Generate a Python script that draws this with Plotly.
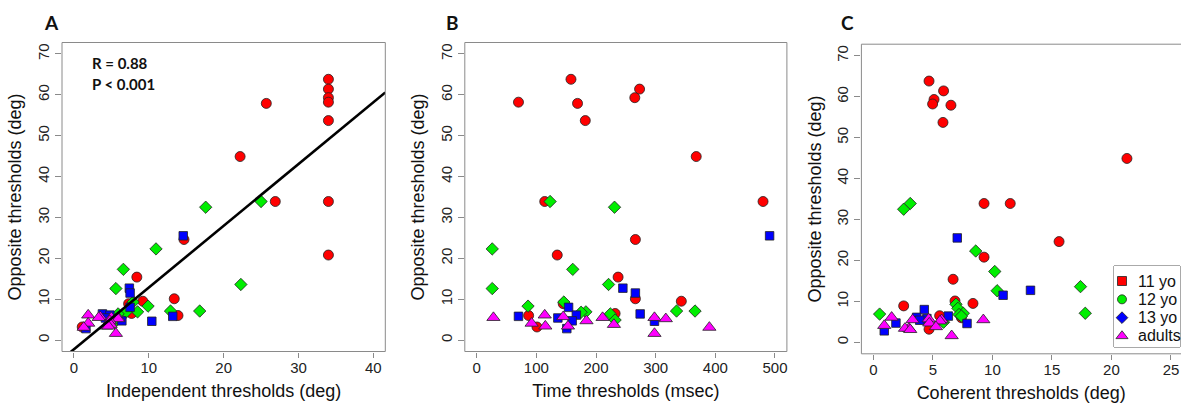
import plotly.graph_objects as go

W, H = 1181, 403

# ---------------- data ----------------
# 11 yo (drawn as red circles)
red_opp   = [63.8, 61.4, 59.3, 58.2, 57.9, 53.7, 44.9, 33.9, 33.9, 24.6, 20.8, 15.4, 10.1, 9.5, 8.9, 6.5, 6.0, 3.2]
red_ind   = [34.0, 34.0, 34.0, 34.0, 25.7, 34.0, 22.2, 26.9, 34.0, 14.7, 34.0, 8.4, 13.4, 9.2, 7.3, 7.7, 13.9, 1.1]
red_time  = [158, 273, 265, 70, 169, 182, 368, 114, 480, 266, 135, 237, 266, 343, 145, 232, 87, 101]
red_coh   = [4.68, 5.9, 5.1, 4.98, 6.52, 5.85, 21.3, 9.3, 11.5, 15.6, 9.3, 6.7, 6.86, 8.37, 2.55, 5.57, 7.4, 4.68]

# 12 yo (drawn as green diamonds)
grn_opp   = [33.9, 32.5, 22.3, 17.3, 13.6, 12.6, 9.3, 8.3, 7.1, 7.1, 6.9, 6.8, 6.4, 4.9]
grn_ind   = [25.0, 17.6, 10.96, 6.6, 22.3, 5.6, 7.9, 9.9, 12.9, 16.8, 8.5, 6.95, 5.9, 5.7]
grn_time  = [123, 231, 26, 161, 221, 26, 146, 86, 335, 366, 183, 175, 224, 232]
grn_coh   = [3.1, 2.55, 8.6, 10.2, 17.4, 10.4, 6.94, 7.1, 17.8, 7.56, 0.53, 7.2, 7.4, 5.9]

# 13 yo (drawn as blue squares)
blu_opp   = [25.5, 12.7, 11.5, 8.0, 6.4, 6.1, 5.8, 5.4, 4.6, 4.7, 2.8]
blu_ind   = [14.6, 7.4, 7.5, 7.5, 3.8, 4.8, 13.2, 4.2, 10.4, 6.4, 1.6]
blu_time  = [491, 245, 266, 154, 274, 167, 70, 136, 298, 160, 151]
blu_coh   = [7.05, 13.2, 10.9, 4.28, 6.3, 3.64, 4.5, 3.9, 7.87, 1.9, 0.92]

# adults (drawn as magenta triangles)
adl_opp   = [6.1, 5.7, 5.5, 5.5, 5.5, 5.2, 4.7, 4.1, 3.8, 3.4, 3.4, 3.1, 1.6]
adl_ind   = [1.9, 3.5, 3.3, 5.0, 5.9, 5.9, 4.8, 1.9, 4.9, 4.3, 4.6, 1.3, 5.6]
adl_time  = [114, 145, 28, 211, 298, 317, 184, 92, 230, 115, 153, 390, 298]
adl_coh   = [1.54, 4.65, 3.3, 5.74, 9.24, 5.6, 4.7, 0.92, 5.26, 3.0, 2.66, 3.1, 6.58]

# regression line in panel A
fit_intercept = -2.25
fit_slope = 1.51
stat_lines = ["R = 0.88", "P < 0.001"]

# legend as printed in the reference (its symbols differ from the plotted ones)
legend_labels = ["11 yo", "12 yo", "13 yo", "adults"]
legend_symbols = ["square", "circle", "diamond", "triangle-up"]
group_colors = ["#FF0000", "#00EE00", "#0000FF", "#FF00FF"]

panel_letters = ["A", "B", "C"]
x_titles = ["Independent thresholds (deg)", "Time thresholds (msec)", "Coherent thresholds (deg)"]
y_title = "Opposite thresholds (deg)"
x_ticks = [[0, 10, 20, 30, 40], [0, 100, 200, 300, 400, 500], [0, 5, 10, 15, 20, 25]]
y_ticks = [0, 10, 20, 30, 40, 50, 60, 70]

# ---------------- geometry helpers (page pixels -> paper) ----------------
def px_x(p):
    return p / W

def px_y(p):
    return 1 - p / H

# panel frames in page pixels: (left, right, top, bottom)
frames = [(62.0, 385.3, 42.5, 351.5), (464.8, 786.9, 42.5, 351.5), (861.4, 1182.9, 44.2, 353.8)]
x_ranges = [[-1.6, 41.6], [-20, 520], [-1, 26]]
y_range = [-2.8, 72.8]

fig = go.Figure()

groups = [
    (red_opp, [red_ind, red_time, red_coh], "circle", group_colors[0], 10),
    (grn_opp, [grn_ind, grn_time, grn_coh], "diamond", group_colors[1], 9.5),
    (blu_opp, [blu_ind, blu_time, blu_coh], "square", group_colors[2], 8.5),
    (adl_opp, [adl_ind, adl_time, adl_coh], "triangle-up", group_colors[3], 11.5),
]
axis_ids = [("x", "y"), ("x2", "y2"), ("x3", "y3")]

for gi, (yv, xs, sym, col, sz) in enumerate(groups):
    for pi in range(3):
        xa, ya = axis_ids[pi]
        fig.add_trace(go.Scatter(
            x=xs[pi], y=yv, mode="markers", xaxis=xa, yaxis=ya, showlegend=False,
            marker=dict(symbol=sym, color=col, size=sz, opacity=1,
                        line=dict(color="#222222", width=0.8)),
            hoverinfo="skip"))

lx = x_ranges[0]
fig.add_trace(go.Scatter(
    x=lx, y=[fit_intercept + fit_slope * v for v in lx], mode="lines", xaxis="x", yaxis="y",
    line=dict(color="black", width=2.6), showlegend=False, hoverinfo="skip"))

# legend box drawn on its own small axis (x4/y4): row index on y, pixel offset on x
leg_l, leg_r, leg_t, leg_b = 1114, 1180, 266, 347
row_top, row_step = 281, 18.33
leg_rows = list(range(len(legend_labels)))
fig.add_trace(go.Scatter(
    x=[8] * len(leg_rows), y=leg_rows, mode="markers", xaxis="x4", yaxis="y4",
    showlegend=False, hoverinfo="skip", cliponaxis=False,
    marker=dict(symbol=legend_symbols, color=group_colors, size=[9, 9, 9, 10.5], opacity=1,
                line=dict(color="#222222", width=0.8))))

font_family = "Arial, 'Liberation Sans', sans-serif"
layout = dict(
    width=W, height=H, margin=dict(l=0, r=0, t=0, b=0), autosize=False,
    paper_bgcolor="white", plot_bgcolor="white",
    font=dict(family=font_family, color="#222222"),
    showlegend=False,
)

shapes = []
annotations = []
for pi in range(3):
    l, r, t, b = frames[pi]
    xkey = "xaxis" if pi == 0 else f"xaxis{pi+1}"
    ykey = "yaxis" if pi == 0 else f"yaxis{pi+1}"
    xa, ya = axis_ids[pi]
    rng = list(x_ranges[pi])
    dom_r = px_x(r)
    if dom_r > 1.0:
        scale = (x_ranges[pi][1] - x_ranges[pi][0]) / (r - l)
        rng = [x_ranges[pi][0], x_ranges[pi][0] + (W - l) * scale]
        dom_r = 1.0
    layout[xkey] = dict(
        domain=[px_x(l), dom_r], range=rng, anchor=ya,
        tickvals=x_ticks[pi], ticks="outside", ticklen=5, tickcolor="#8a8a8a", tickwidth=1,
        ticklabelstandoff=-3,
        showline=False, showgrid=False, zeroline=False, automargin=False,
        tickfont=dict(size=15, color="#222222"),
        title=dict(text=x_titles[pi], font=dict(size=18, color="#111111"), standoff=9))
    layout[ykey] = dict(
        domain=[px_y(b), px_y(t)], range=y_range, anchor=xa,
        tickvals=y_ticks, ticks="outside", ticklen=6, tickcolor="#8a8a8a", tickwidth=1,
        tickangle=-90,
        showline=False, showgrid=False, zeroline=False, automargin=False,
        tickfont=dict(size=15, color="#222222"),
        title=dict(text=y_title, font=dict(size=18, color="#111111"), standoff=8))
    shapes.append(dict(type="rect", xref="paper", yref="paper",
                       x0=px_x(l), x1=px_x(r), y0=px_y(b), y1=px_y(t),
                       line=dict(color="#8a8a8a", width=1), fillcolor="rgba(0,0,0,0)", layer="above"))

# legend axis
layout["xaxis4"] = dict(domain=[px_x(leg_l), px_x(leg_r)], range=[0, leg_r - leg_l],
                        visible=False, anchor="y4", fixedrange=True)
layout["yaxis4"] = dict(domain=[px_y(leg_b), px_y(leg_t)],
                        range=[(leg_b - row_top) / row_step, -(row_top - leg_t) / row_step],
                        visible=False, anchor="x4", fixedrange=True)
shapes.append(dict(type="rect", xref="paper", yref="paper",
                   x0=px_x(leg_l), x1=px_x(leg_r), y0=px_y(leg_b), y1=px_y(leg_t),
                   line=dict(color="#555555", width=1), fillcolor="white", layer="below"))
for i, lab in zip(leg_rows, legend_labels):
    annotations.append(dict(text=lab, xref="x4", yref="y4", x=22, y=i,
                            xanchor="left", yanchor="middle", showarrow=False,
                            font=dict(size=16, color="#111111", family=font_family)))

letter_pos = [(51.5, 23), (452, 23), (847, 23)]
for letter, (lxp, lyp) in zip(panel_letters, letter_pos):
    annotations.append(dict(text=f"<b>{letter}</b>", xref="paper", yref="paper",
                            x=px_x(lxp), y=px_y(lyp), xanchor="center", yanchor="middle",
                            showarrow=False, font=dict(size=19, family="Lato, 'Open Sans', sans-serif", color="#111111")))

for i, s in enumerate(stat_lines):
    annotations.append(dict(text=f"<b>{s}</b>", xref="x", yref="y",
                            x=2.1, y=[67.8, 62.7][i], xanchor="left", yanchor="middle",
                            showarrow=False, font=dict(size=15, family="Lato, 'Open Sans', sans-serif", color="#111111")))

layout["shapes"] = shapes
layout["annotations"] = annotations
fig.update_layout(**layout)

# remove the default 8px page margin so the figure fills the window exactly
fig.write_html("out.html",
               config={"displayModeBar": False, "staticPlot": True},
               post_script="document.body.style.margin='0';document.body.style.overflow='hidden';")
